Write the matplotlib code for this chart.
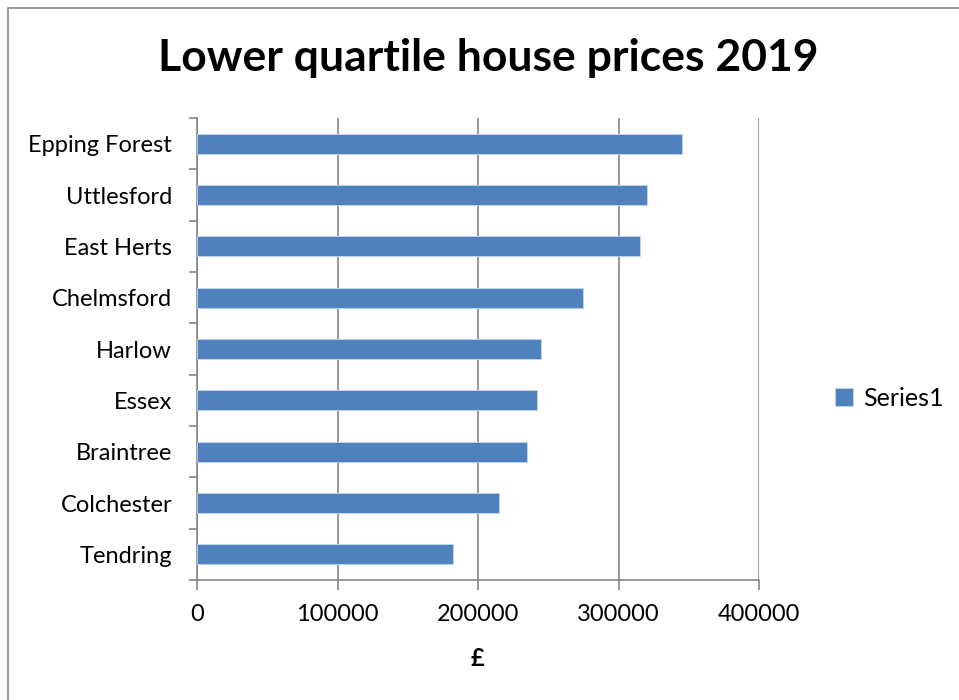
import matplotlib
matplotlib.use("Agg")
import matplotlib.pyplot as plt
from matplotlib.patches import Rectangle
import numpy as np

categories = ["Tendring", "Colchester", "Braintree", "Essex", "Harlow",
              "Chelmsford", "East Herts", "Uttlesford", "Epping Forest"]
values = [182000, 215000, 235000, 242000, 244500, 275000, 315000, 320000, 345000]
xticks = [0, 100000, 200000, 300000, 400000]

plt.rcParams['font.family'] = ['Lato', 'DejaVu Sans']

fig = plt.figure(figsize=(9.59, 7.0), dpi=100)
fig.patches.append(Rectangle((8/959, -0.1), 1.2, (1 - 8/700) + 0.1, transform=fig.transFigure,
                             fill=False, edgecolor='#868686', linewidth=1.2))
ax = fig.add_axes([197/959, 1 - 580/700, (759 - 197)/959, (580 - 118)/700])

y = np.arange(len(categories))
ax.barh(y, values, height=0.39, color='#4F81BD', edgecolor='#C5D5EA', linewidth=0.6,
        label='Series1', zorder=3)
ax.set_xlim(0, 400000)
ax.set_ylim(-0.5, len(categories) - 0.5)
ax.set_xticks(xticks)
ax.set_xticklabels([str(v) for v in xticks], fontsize=17)
ax.set_yticks(y)
ax.set_yticklabels(categories, fontsize=17)
ax.set_yticks(np.arange(-0.5, len(categories), 1), minor=True)
ax.tick_params(axis='y', which='major', length=0, pad=18)
ax.tick_params(axis='y', which='minor', length=6, color='#868686', width=1.2)
ax.tick_params(axis='x', which='major', length=7, color='#868686', width=1.2, pad=10)
ax.grid(axis='x', color='#868686', linewidth=1.2, zorder=0)
for s in ['top', 'right']:
    ax.spines[s].set_visible(False)
for s in ['left', 'bottom']:
    ax.spines[s].set_color('#868686')
    ax.spines[s].set_linewidth(1.2)
ax.set_xlabel('£', fontsize=17, fontweight='bold', labelpad=16)

fig.text(488/959, 1 - 58/700, 'Lower quartile house prices 2019', fontsize=32,
         fontweight='bold', ha='center', va='center')

leg = ax.legend(loc='center left', bbox_to_anchor=(812/959, 1 - 398/700),
                bbox_transform=fig.transFigure, frameon=False, fontsize=18,
                handlelength=0.75, handleheight=0.75, handletextpad=0.4)

fig.savefig('out.png', dpi=100)
